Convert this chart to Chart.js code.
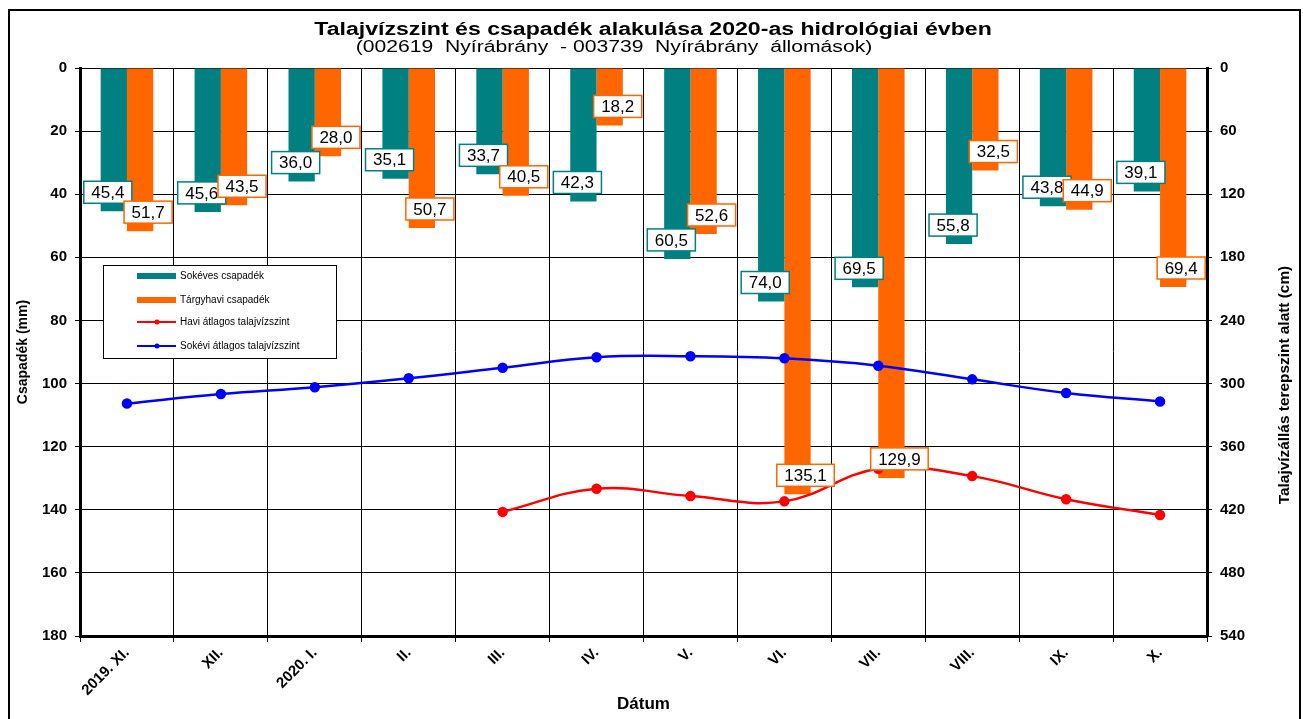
<!DOCTYPE html>
<html>
<head>
<meta charset="utf-8">
<title>Talajvízszint és csapadék 2020</title>
<script src="https://cdn.jsdelivr.net/npm/chart.js@4.4.0/dist/chart.umd.min.js"></script>
<style>
    html, body { margin: 0; padding: 0; background: #fff; }
    #wrap { position: relative; width: 1303px; height: 719px; overflow: hidden; }
    #frame { position: absolute; left: 8px; top: 9px; width: 1293px; height: 740px; border: 2px solid #000; box-sizing: border-box; pointer-events: none; }
</style>
</head>
<body>
<div id="wrap">
    <canvas id="chart" width="1303" height="719"></canvas>
    <div id="frame"></div>
</div>
<script>
// Data
const months = ['2019. XI.', 'XII.', '2020. I.', 'II.', 'III.', 'IV.', 'V.', 'VI.', 'VII.', 'VIII.', 'IX.', 'X.'];
const longTermRain = [45.4, 45.6, 36.0, 35.1, 33.7, 42.3, 60.5, 74.0, 69.5, 55.8, 43.8, 39.1];
const monthRain = [51.7, 43.5, 28.0, 50.7, 40.5, 18.2, 52.6, 135.1, 129.9, 32.5, 44.9, 69.4];
const monthLevel = [null, null, null, null, 422, 400, 407, 412, 381, 388, 410, 425];
const longTermLevel = [319, 310, 303.5, 295, 285, 275, 274, 276, 283, 296, 309, 317];
const rainTicks = [0, 20, 40, 60, 80, 100, 120, 140, 160, 180];
const levelTicks = [0, 60, 120, 180, 240, 300, 360, 420, 480, 540];

const titleText = 'Talajvízszint és csapadék alakulása 2020-as hidrológiai évben';
const subtitleText = '(002619  Nyírábrány  - 003739  Nyírábrány  állomások)';
const rightAxisText = 'Talajvízállás terepszint alatt (cm)';

const FONT = "'Liberation Sans', Arial, sans-serif";
const TEAL = '#008080';
const ORANGE = '#FF6600';

Chart.defaults.font.family = FONT;
Chart.defaults.color = '#000';

// text squeezed/stretched along its own direction (the original is wide)
function stretchedText(ctx, text, x, y, font, sx, angle) {
    ctx.save();
    ctx.font = font;
    ctx.textAlign = 'center';
    ctx.textBaseline = 'middle';
    ctx.translate(x, y);
    if (angle) ctx.rotate(angle);
    ctx.scale(sx, 1);
    ctx.fillStyle = '#000';
    ctx.fillText(text, 0, 0);
    ctx.restore();
}

// Title, subtitle and right axis title
const headerText = {
    id: 'headerText',
    afterDraw(chart) {
        const ctx = chart.ctx;
        stretchedText(ctx, titleText, 653, 30, 'bold 17.5px ' + FONT, 1.32);
        stretchedText(ctx, subtitleText, 614, 48, '16px ' + FONT, 1.32);
        stretchedText(ctx, rightAxisText, 1285, 385, 'bold 14px ' + FONT, 1.1, -Math.PI / 2);
    }
};

// Boxed value labels near the end of each bar
const barLabels = {
    id: 'barLabels',
    afterDatasetsDraw(chart) {
        const ctx = chart.ctx;
        ctx.save();
        ctx.font = '17px ' + FONT;
        ctx.textAlign = 'center';
        ctx.textBaseline = 'middle';
        [0, 1].forEach(di => {
            const ds = chart.data.datasets[di];
            chart.getDatasetMeta(di).data.forEach((bar, i) => {
                const txt = ds.data[i].toFixed(1).replace('.', ',');
                const w = ctx.measureText(txt).width + 15;
                const h = 22;
                const cx = bar.x + (di === 0 ? -6 : 8);
                const cy = bar.y - 19;
                ctx.fillStyle = '#fff';
                ctx.fillRect(cx - w / 2, cy - h / 2, w, h);
                ctx.strokeStyle = ds.backgroundColor;
                ctx.lineWidth = 1.5;
                ctx.strokeRect(cx - w / 2, cy - h / 2, w, h);
                ctx.fillStyle = '#000';
                ctx.fillText(txt, cx, cy + 1);
            });
        });
        ctx.restore();
    }
};

// Legend box inside the plot area
const boxLegend = {
    id: 'boxLegend',
    afterDraw(chart) {
        const { ctx, chartArea } = chart;
        const x = chartArea.left + 23, y = chartArea.top + 197, w = 233, h = 93;
        const rows = [11, 35, 57, 81];
        ctx.save();
        ctx.fillStyle = '#fff';
        ctx.fillRect(x, y, w, h);
        ctx.strokeStyle = '#000';
        ctx.lineWidth = 1;
        ctx.strokeRect(x + 0.5, y + 0.5, w, h);
        ctx.font = '10px ' + FONT;
        ctx.textBaseline = 'middle';
        chart.data.datasets.forEach((ds, i) => {
            const ry = y + rows[i];
            if (ds.type === 'line') {
                ctx.strokeStyle = ds.borderColor;
                ctx.lineWidth = 2;
                ctx.beginPath();
                ctx.moveTo(x + 34, ry);
                ctx.lineTo(x + 73, ry);
                ctx.stroke();
                ctx.fillStyle = ds.borderColor;
                ctx.beginPath();
                ctx.arc(x + 54, ry, 2.5, 0, Math.PI * 2);
                ctx.fill();
            } else {
                ctx.fillStyle = ds.backgroundColor;
                ctx.fillRect(x + 34, ry - 3, 39, 6);
            }
            ctx.fillStyle = '#000';
            ctx.fillText(ds.label, x + 77, ry);
        });
        ctx.restore();
    }
};

const ctx = document.getElementById('chart').getContext('2d');

new Chart(ctx, {
    data: {
        labels: months,
        datasets: [
            { type: 'bar', label: 'Sokéves csapadék', data: longTermRain, backgroundColor: TEAL, yAxisID: 'y', order: 2 },
            { type: 'bar', label: 'Tárgyhavi csapadék', data: monthRain, backgroundColor: ORANGE, yAxisID: 'y', order: 2 },
            { type: 'line', label: 'Havi átlagos talajvízszint', data: monthLevel, borderColor: '#FF0000', backgroundColor: '#FF0000',
              borderWidth: 2.5, pointRadius: 4, tension: 0.4, yAxisID: 'y2', order: 1 },
            { type: 'line', label: 'Sokévi átlagos talajvízszint', data: longTermLevel, borderColor: '#0000FF', backgroundColor: '#0000FF',
              borderWidth: 2.5, pointRadius: 4, tension: 0.4, yAxisID: 'y2', order: 1 }
        ]
    },
    options: {
        responsive: false,
        animation: false,
        layout: { padding: { left: 15, right: 9, top: 68, bottom: 4 } },
        datasets: { bar: { categoryPercentage: 0.56, barPercentage: 1 } },
        plugins: {
            legend: { display: false },
            tooltip: { enabled: false },
            title: { display: false }
        },
        scales: {
            x: {
                grid: { color: '#000', lineWidth: 1, offset: true, tickLength: 6 },
                border: { color: '#000', width: 3 },
                ticks: { font: { size: 15, weight: 'bold' }, minRotation: 45, maxRotation: 45, autoSkip: false, padding: 2 },
                title: { display: true, text: 'Dátum', font: { size: 17, weight: 'bold' }, padding: 0 },
                afterFit(scale) { scale.height = 79; }
            },
            y: {
                position: 'left',
                reverse: true,
                min: 0,
                max: 180,
                afterBuildTicks(scale) { scale.ticks = rainTicks.map(v => ({ value: v })); },
                grid: { color: '#000', lineWidth: 1, tickLength: 5 },
                border: { color: '#000', width: 3 },
                ticks: { font: { size: 15, weight: 'bold' }, padding: 8 },
                title: { display: true, text: 'Csapadék (mm)', font: { size: 14, weight: 'bold' }, padding: 0 },
                afterFit(scale) { scale.width = 65; }
            },
            y2: {
                position: 'right',
                reverse: true,
                min: 0,
                max: 540,
                afterBuildTicks(scale) { scale.ticks = levelTicks.map(v => ({ value: v })); },
                grid: { drawOnChartArea: false, color: '#000', tickLength: 5 },
                border: { color: '#000', width: 3 },
                ticks: { font: { size: 15, weight: 'bold' }, padding: 8 },
                afterFit(scale) { scale.width = 87; }
            }
        }
    },
    plugins: [barLabels, boxLegend, headerText]
});
</script>
</body>
</html>
